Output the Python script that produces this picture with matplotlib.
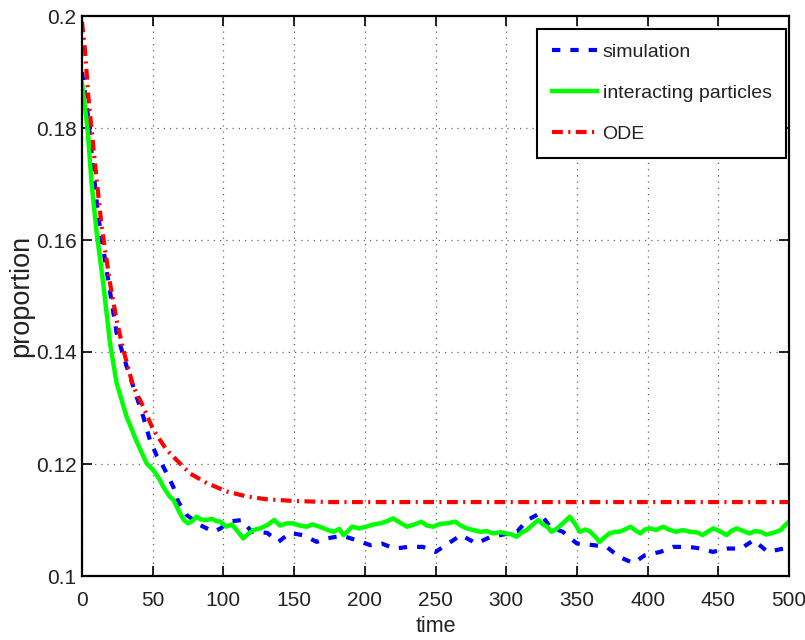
import matplotlib
matplotlib.use("Agg")
import matplotlib.pyplot as plt

# ---------------- data ----------------
sim_t = [0, 4, 8, 11.5, 17.4, 24.5, 31.6, 36.3, 43.4, 48, 52.8, 55, 60, 64.6, 68, 74, 83.5, 93,
         98, 103.5, 113, 120, 131, 139, 147, 156, 166, 173, 184, 194, 204, 212, 221, 231,
         241, 250, 259, 268, 279, 289, 300, 308, 315, 324, 331, 340, 350, 362, 371, 380,
         390, 398, 409, 418, 429, 438, 446, 457, 466, 475, 485, 496, 500]
sim_v = [0.1900, 0.1826, 0.1725, 0.1642, 0.1546, 0.1434, 0.1374, 0.1338, 0.1284, 0.1243,
         0.1215, 0.1207, 0.1183, 0.1159, 0.1133, 0.1109, 0.1091, 0.1079, 0.1085, 0.1097,
         0.1100, 0.1079, 0.1077, 0.1061, 0.1077, 0.1073, 0.1061, 0.1067, 0.1072, 0.1064,
         0.1055, 0.1058, 0.1049, 0.1052, 0.1052, 0.1043, 0.1058, 0.1073, 0.1058, 0.1070,
         0.1075, 0.1080, 0.1100, 0.1112, 0.1088, 0.1079, 0.1058, 0.1055, 0.1052, 0.1034,
         0.1023, 0.1037, 0.1043, 0.1052, 0.1052, 0.1049, 0.1043, 0.1049, 0.1049, 0.1064,
         0.1043, 0.1049, 0.1047]

ip_t = [0, 3.8, 6.8, 10.4, 15, 19.8, 24.5, 31.6, 38.7, 45.7, 50.4, 55, 57.5, 62, 64.6, 69.3,
        72, 75, 78, 81, 84, 88, 92, 95, 98, 102, 106, 110, 114, 117, 121, 126, 131, 136,
        140, 145, 149.5, 154, 159, 163, 168, 173, 178, 182, 185, 188, 191, 196, 201, 206,
        211, 216, 220, 225, 230, 235, 240, 244, 248.5, 253, 258, 264, 268, 272, 277, 281.5,
        286, 291, 296, 300, 304, 307.4, 311, 314.5, 318, 322.7, 326, 329, 332, 336, 340,
        345, 349, 352, 356, 359, 363, 366, 370, 373, 377, 380, 384, 388, 391, 395, 398,
        402, 406, 411, 415, 420, 425, 430, 435, 439, 443, 446.5, 451, 456, 459, 463, 468,
        472, 476, 480, 484, 487, 490, 494, 497, 500]
ip_v = [0.1880, 0.1802, 0.1701, 0.1612, 0.1523, 0.1416, 0.1344, 0.1284, 0.1240, 0.1201,
        0.1189, 0.1172, 0.1159, 0.1142, 0.1136, 0.1112, 0.1100, 0.1094, 0.1098, 0.1106,
        0.1101, 0.1100, 0.1102, 0.1098, 0.1097, 0.1088, 0.1092, 0.1080, 0.1067, 0.1074,
        0.1082, 0.1085, 0.1091, 0.1100, 0.1090, 0.1094, 0.1094, 0.1090, 0.1088, 0.1092,
        0.1088, 0.1083, 0.1079, 0.1084, 0.1073, 0.1080, 0.1088, 0.1085, 0.1088, 0.1092,
        0.1094, 0.1098, 0.1103, 0.1095, 0.1088, 0.1092, 0.1097, 0.1090, 0.1088, 0.1093,
        0.1094, 0.1097, 0.1090, 0.1085, 0.1082, 0.1079, 0.1080, 0.1076, 0.1078, 0.1076,
        0.1074, 0.1070, 0.1078, 0.1082, 0.1090, 0.1100, 0.1092, 0.1088, 0.1079, 0.1085,
        0.1094, 0.1106, 0.1092, 0.1079, 0.1083, 0.1080, 0.1070, 0.1061, 0.1070, 0.1076,
        0.1079, 0.1079, 0.1083, 0.1088, 0.1082, 0.1076, 0.1083, 0.1085, 0.1082, 0.1088,
        0.1083, 0.1079, 0.1082, 0.1079, 0.1078, 0.1073, 0.1080, 0.1085, 0.1080, 0.1073,
        0.1080, 0.1085, 0.1080, 0.1076, 0.1080, 0.1079, 0.1074, 0.1076, 0.1078, 0.1082,
        0.1090, 0.1097]

ode_t = [0, 2.1, 4.5, 6.8, 10.4, 13.9, 19.8, 24.5, 29.2, 36.3, 43.4, 50.4, 59.9, 69.3,
         76.4, 88.2, 102.3, 116.5, 130.6, 149.4, 175, 500]
ode_v = [0.1990, 0.1939, 0.1856, 0.1796, 0.1707, 0.1624, 0.1523, 0.1457, 0.1404, 0.1338,
         0.1302, 0.1261, 0.1225, 0.1201, 0.1183, 0.1166, 0.1151, 0.1142, 0.1137, 0.1134,
         0.1132, 0.1132]

labels = ["simulation", "interacting particles", "ODE"]
x_ticks = [0, 50, 100, 150, 200, 250, 300, 350, 400, 450, 500]
y_ticks = [0.1, 0.12, 0.14, 0.16, 0.18, 0.2]
y_ticklabels = ["0.1", "0.12", "0.14", "0.16", "0.18", "0.2"]

plt.rcParams["font.family"] = ["Liberation Sans", "DejaVu Sans"]
tick_size = 15
TXT = "#222222"

fig = plt.figure(figsize=(8.05, 6.40), dpi=100)
ax = fig.add_axes([82 / 805, 64 / 640, 707 / 805, 560 / 640])

ax.plot(sim_t, sim_v, color=(0, 0, 1), lw=3.0, dashes=(2.0, 2.4), label=labels[0])
ax.plot(ip_t, ip_v, color=(0, 1, 0), lw=3.2, label=labels[1])
ax.plot(ode_t, ode_v, color=(1, 0, 0), lw=3.0, dashes=(2.6, 1.3, 0.5, 1.3), label=labels[2])

ax.set_xlim(0, 500)
ax.set_ylim(0.1, 0.2)
ax.set_xticks(x_ticks)
ax.set_yticks(y_ticks)
ax.set_yticklabels(y_ticklabels)
ax.tick_params(direction="in", length=7, width=1.2, top=True, right=True,
               labelsize=tick_size, colors="black", labelcolor=TXT)
ax.tick_params(axis="x", pad=11)
ax.tick_params(axis="y", pad=4)
for s in ax.spines.values():
    s.set_linewidth(1.6)
ax.grid(True, color="#666666", linestyle=(0, (1, 4)), linewidth=0.9)
ax.set_axisbelow(True)

ax.set_xlabel("time", fontsize=15.5, color=TXT)
ax.xaxis.set_label_coords(0.5, -0.072)
ax.set_ylabel("proportion", fontsize=19.5, color=TXT)
ax.yaxis.set_label_coords(-0.068, 0.5)

leg = ax.legend(loc="upper right", bbox_to_anchor=(0.996, 0.977), fontsize=14,
                handlelength=2.3, handletextpad=0.3, labelspacing=1.2, borderpad=0.75,
                borderaxespad=0, fancybox=False, framealpha=1, edgecolor="black")
leg.get_frame().set_linewidth(1.5)
for t in leg.get_texts():
    t.set_color(TXT)

fig.savefig("out.png", dpi=100)
